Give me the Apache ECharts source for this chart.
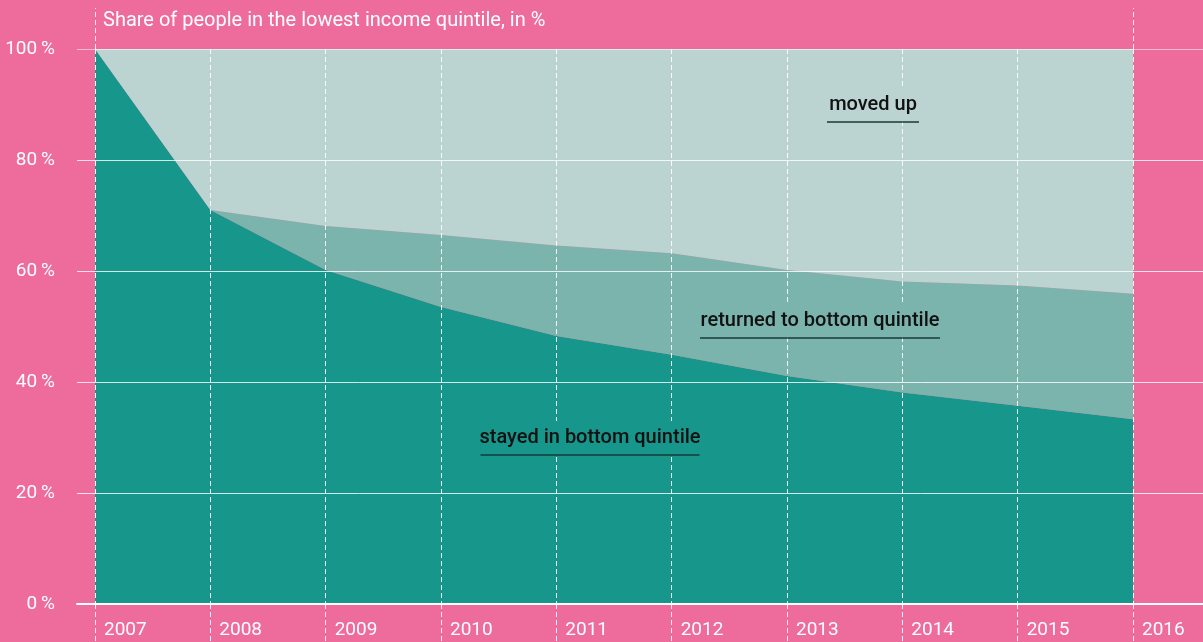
<!DOCTYPE html>
<html>
<head>
<meta charset="utf-8">
<script src="https://cdn.jsdelivr.net/npm/echarts@6/dist/echarts.min.js"></script>
<style>
  html, body { margin: 0; padding: 0; background: #ee6c9b; }
  #chart { width: 1203px; height: 642px; }
</style>
</head>
<body>
<div id="chart"></div>
<script>
// values, in % of people who started in the lowest quintile
const years = ['2007', '2008', '2009', '2010', '2011', '2012', '2013', '2014', '2015', '2016'];
const stayed = [100, 71, 60.2, 53.5, 48.3, 44.9, 41.1, 38.1, 35.7, 33.3];
const returned = [0, 0, 7.9, 13.0, 16.3, 18.3, 19.1, 20.0, 21.7, 22.6];
const movedUp = [0, 29, 31.9, 33.5, 35.4, 36.8, 39.8, 41.9, 42.6, 44.1];

const PINK = '#ee6c9b';
const DARK = '#17968b';
const MID = '#7bb3ad';
const LIGHT = '#bbd4d1';
const FONT = 'Roboto, "DejaVu Sans", sans-serif';

const chart = echarts.init(document.getElementById('chart'));

function areaSeries(name, data, color) {
  return {
    name: name,
    type: 'line',
    stack: 'all',
    data: data,
    symbol: 'none',
    lineStyle: { width: 0 },
    areaStyle: { color: color, opacity: 1 },
    xAxisIndex: 0,
    yAxisIndex: 0,
    z: 2
  };
}

// label with a box that hides the grid behind it, and a rule under it
function note(text, cx, cy, w, fill) {
  return {
    type: 'group',
    z: 20,
    children: [
      { type: 'rect', z: 20, shape: { x: cx - w / 2, y: cy - 17, width: w, height: 33 }, style: { fill: fill } },
      { type: 'text', z: 21, x: cx, y: cy, style: { text: text, fill: '#111', font: '500 20px ' + FONT, align: 'center', verticalAlign: 'middle' } },
      { type: 'line', z: 21, shape: { x1: cx - w / 2, y1: cy + 17, x2: cx + w / 2, y2: cy + 17 }, style: { stroke: '#183a36', lineWidth: 1.5 } }
    ]
  };
}

const dashed = { color: 'rgba(255,255,255,0.9)', width: 1, type: [5, 3] };
const soft = 'rgba(255,255,255,0.8)';

chart.setOption({
  animation: false,
  backgroundColor: PINK,
  textStyle: { fontFamily: FONT },
  title: {
    text: 'Share of people in the lowest income quintile, in %',
    left: 103,
    top: 11,
    padding: 0,
    textStyle: { color: '#fff', fontSize: 20, fontWeight: 'normal', fontFamily: FONT }
  },
  grid: [
    { left: 95, right: 70, top: 49, bottom: 38 },
    { left: 77, right: 0, top: 49, bottom: 38 }
  ],
  xAxis: [
    {
      type: 'category',
      gridIndex: 0,
      data: years,
      boundaryGap: false,
      z: 5,
      axisLine: { show: false },
      axisTick: { show: true, interval: 0, length: 38, lineStyle: dashed },
      axisLabel: {
        interval: 0, color: '#fff', fontSize: 19, fontFamily: FONT,
        align: 'left', verticalAlign: 'middle', margin: 26, padding: [0, 0, 0, 9]
      },
      splitLine: { show: true, interval: 0, lineStyle: dashed }
    },
    {
      type: 'category',
      gridIndex: 0,
      position: 'top',
      data: years,
      boundaryGap: false,
      z: 5,
      axisLine: { show: false },
      axisTick: { show: true, length: 41, lineStyle: dashed, interval: function (i) { return i === 0 || i === years.length - 1; } },
      axisLabel: { show: false },
      splitLine: { show: false }
    },
    {
      type: 'value',
      gridIndex: 1,
      min: 0,
      max: 1,
      z: 6,
      axisLine: { show: true, lineStyle: { color: '#fff', width: 2 } },
      axisTick: { show: false },
      axisLabel: { show: false },
      splitLine: { show: false }
    }
  ],
  yAxis: [
    { type: 'value', gridIndex: 0, min: 0, max: 100, show: false },
    {
      type: 'value',
      gridIndex: 1,
      min: 0,
      max: 100,
      interval: 20,
      z: 5,
      axisLine: { show: false },
      axisTick: { show: false },
      axisLabel: {
        color: '#fff', fontSize: 19, fontFamily: FONT, margin: 22,
        formatter: function (v) { return v + '\u2009%'; }
      },
      splitLine: {
        show: true,
        lineStyle: {
          width: 1,
          color: ['rgba(255,255,255,0)', soft, soft, soft, soft, 'rgba(255,255,255,0.55)']
        }
      }
    }
  ],
  series: [
    areaSeries('stayed in bottom quintile', stayed, DARK),
    areaSeries('returned to bottom quintile', returned, MID),
    areaSeries('moved up', movedUp, LIGHT)
  ],
  graphic: [
    note('moved up', 873, 105, 92, LIGHT),
    note('returned to bottom quintile', 820, 321, 240, MID),
    note('stayed in bottom quintile', 590, 438, 219, DARK)
  ]
});
</script>
</body>
</html>
